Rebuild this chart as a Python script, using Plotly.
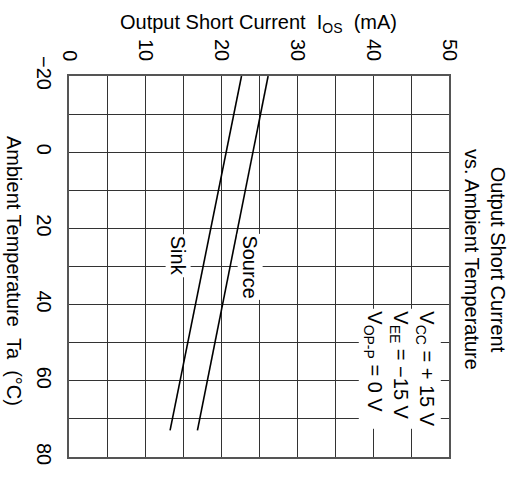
import plotly.graph_objects as go

# Data
temperature = [-20, 73]            # Ambient Temperature Ta (°C)
source_current = [26.2, 16.9]      # Output short current, Source (mA)
sink_current = [22.7, 13.3]        # Output short current, Sink (mA)

current_ticks = [0, 10, 20, 30, 40, 50]
temp_ticks = [-20, 0, 20, 40, 60, 80]

FONT = "Arial, Liberation Sans, sans-serif"
FS = 20

W, H = 513, 477
# plot area in page coordinates
PL, PR, PT, PB = 69, 449, 76, 459
L, T, R, B = PL, PT, W - PR, H - PB

fig = go.Figure()
fig.add_trace(go.Scatter(x=source_current, y=temperature, mode="lines",
                         line=dict(color="black", width=1.6), name="Source",
                         showlegend=False))
fig.add_trace(go.Scatter(x=sink_current, y=temperature, mode="lines",
                         line=dict(color="black", width=1.6), name="Sink",
                         showlegend=False))

fig.update_layout(
    width=W, height=H,
    margin=dict(l=L, r=R, t=T, b=B, pad=0),
    paper_bgcolor="white", plot_bgcolor="white",
    font=dict(family=FONT, size=FS, color="black"),
    xaxis=dict(range=[0, 50], side="top", tickvals=current_ticks,
               ticktext=[str(v) for v in current_ticks], tickangle=90,
               showgrid=True, gridcolor="#333", gridwidth=1,
               minor=dict(dtick=5, tick0=0, showgrid=True, gridcolor="#333", gridwidth=1),
               zeroline=False, showline=True, linecolor="#555", linewidth=1.5,
               mirror=True, ticks="", ticklabelstandoff=6),
    yaxis=dict(range=[80, -20], tickvals=temp_ticks,
               ticktext=[str(v).replace("-", "\u2212") for v in temp_ticks], tickangle=90,
               showgrid=True, gridcolor="#333", gridwidth=1,
               minor=dict(dtick=10, tick0=0, showgrid=True, gridcolor="#333", gridwidth=1),
               zeroline=False, showline=True, linecolor="#555", linewidth=1.5,
               mirror=True, ticks="", ticklabelstandoff=6),
)

pw, ph = PR - PL, PB - PT

def px(x):
    return (x - PL) / pw

def py(y):
    return (PB - y) / ph

annotations = [
    dict(text="Output Short Current\u00a0\u00a0I<sub>OS</sub>\u00a0\u00a0(mA)",
         xref="paper", yref="paper", x=px(258), y=py(23), showarrow=False,
         xanchor="center", yanchor="middle"),
    dict(text="Ambient Temperature\u00a0\u00a0Ta\u00a0\u00a0(°C)",
         xref="paper", yref="paper", x=px(14), y=py(272), showarrow=False,
         textangle=90, xanchor="center", yanchor="middle"),
    dict(text="Output Short Current<br>vs. Ambient Temperature",
         xref="paper", yref="paper", x=px(485), y=py(260), showarrow=False,
         textangle=90, xanchor="center", yanchor="middle", align="center"),
    dict(text="Sink", x=14.3, y=27.1, xref="x", yref="y", showarrow=False,
         textangle=90, bgcolor="white", borderpad=1),
    dict(text="Source", x=23.8, y=30.2, xref="x", yref="y", showarrow=False,
         textangle=90, bgcolor="white", borderpad=1),
    dict(text="V<sub>CC</sub> = + 15 V<br>V<sub>EE</sub> = \u221215 V<br>V<sub>OP-P</sub> = 0 V",
         xref="paper", yref="paper", x=px(400), y=py(309), showarrow=False,
         textangle=90, xanchor="center", yanchor="top", align="left",
         bgcolor="white", borderpad=2),
]
fig.update_layout(annotations=annotations)

# remove the browser's default 8px body margin so the figure fills the window
fig.write_html("out.html", config={"displayModeBar": False},
               post_script="document.body.style.margin='0';")
